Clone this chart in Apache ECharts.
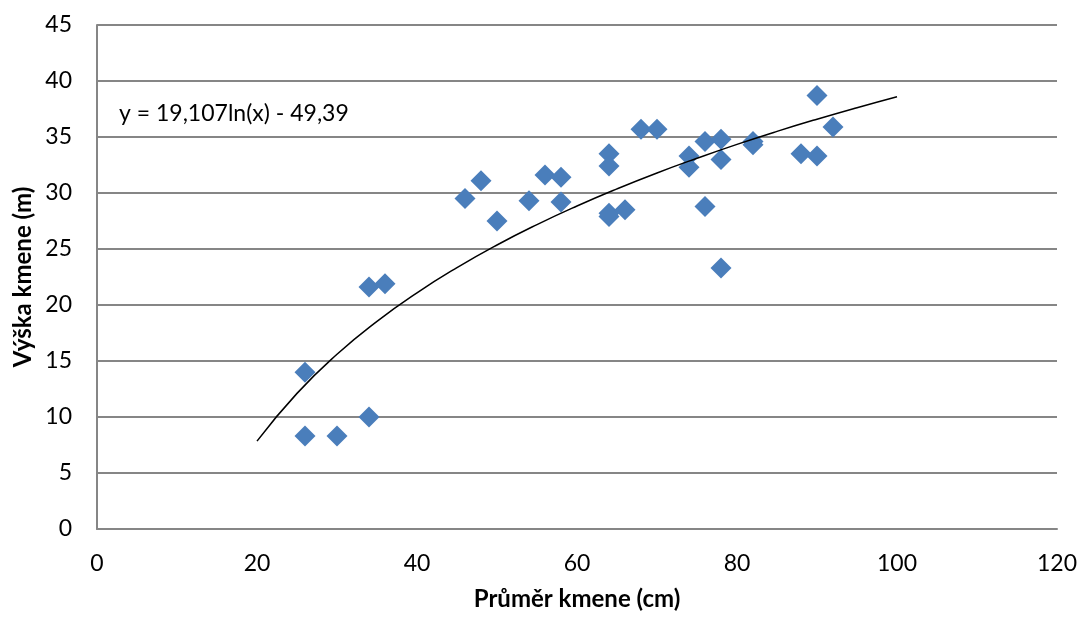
<!DOCTYPE html>
<html><head><meta charset="utf-8">
<script src="https://cdn.jsdelivr.net/npm/echarts@6/dist/echarts.min.js"></script>
<style>html,body{margin:0;padding:0;background:#fff}#c{width:1083px;height:619px}</style>
</head><body><div id="c"></div>
<script>
const diameters = [26,26,30,34,34,36,46,48,50,54,56,58,58,64,64,64,64,66,68,70,74,74,76,76,78,78,78,82,82,88,90,90,92];
const heights   = [14.0,8.3,8.3,10.0,21.6,21.9,29.5,31.1,27.5,29.3,31.6,31.4,29.2,33.5,32.4,28.2,27.9,28.5,35.7,35.7,33.3,32.3,34.6,28.8,34.8,33.0,23.3,34.6,34.3,33.5,38.7,33.3,35.9];
const trendX = [20,25,30,35,40,45,50,55,60,65,70,75,80,85,90,95,100];
const trendY = [7.85,12.11,15.60,18.54,21.09,23.34,25.36,27.18,28.84,30.37,31.79,33.10,34.34,35.50,36.59,37.62,38.60];
const equationText = 'y = 19,107ln(x) - 49,39';
const xTitle = 'Průměr kmene (cm)';
const yTitle = 'Výška kmene (m)';

const font = 'Lato, "Open Sans", sans-serif';
const chart = echarts.init(document.getElementById('c'));
chart.setOption({
  animation: false,
  grid: {left: 97, right: 26, top: 25, bottom: 90},
  xAxis: {
    type: 'value', min: 0, max: 120, interval: 20,
    name: xTitle, nameLocation: 'middle', nameGap: 58,
    nameTextStyle: {fontFamily: font, fontSize: 24, fontWeight: 'bold', color: '#000'},
    axisLine: {show: true, lineStyle: {color: '#868686', width: 2}},
    axisTick: {show: false},
    axisLabel: {fontFamily: font, fontSize: 23, color: '#000', margin: 23},
    splitLine: {show: false}
  },
  yAxis: {
    type: 'value', min: 0, max: 45, interval: 5,
    name: yTitle, nameLocation: 'middle', nameGap: 62, nameRotate: 90,
    nameMoveOverlap: false,
    nameTextStyle: {fontFamily: font, fontSize: 24, fontWeight: 'bold', color: '#000'},
    axisLine: {show: true, lineStyle: {color: '#868686', width: 2}},
    axisTick: {show: false},
    axisLabel: {fontFamily: font, fontSize: 23, color: '#000', margin: 25},
    splitLine: {show: true, lineStyle: {color: '#868686', width: 2}}
  },
  graphic: [{
    type: 'text', left: 119, top: 102,
    style: {text: equationText, font: '23px ' + font, fill: '#000'}
  }],
  series: [
    {
      type: 'line', data: trendX.map((x, i) => [x, trendY[i]]),
      smooth: true, showSymbol: false, symbol: 'none',
      lineStyle: {color: '#000', width: 1.5}, z: 3
    },
    {
      type: 'scatter', data: diameters.map((x, i) => [x, heights[i]]),
      symbol: 'diamond', symbolSize: 21,
      itemStyle: {color: '#4a7ebb', opacity: 1}, z: 2
    }
  ]
});
</script></body></html>
